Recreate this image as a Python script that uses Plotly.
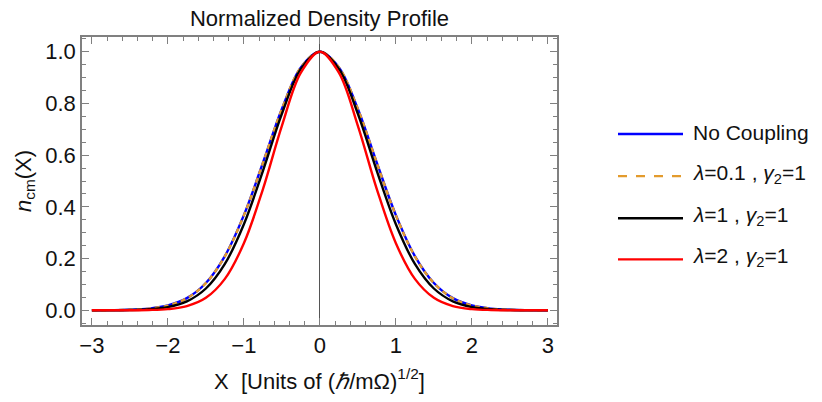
import plotly.graph_objects as go

# ---- data ----
x_vals = [-3.0, -2.75, -2.5, -2.25, -2.0, -1.75, -1.5, -1.25, -1.0, -0.75, -0.5, -0.25,
          0.0, 0.25, 0.5, 0.75, 1.0, 1.25, 1.5, 1.75, 2.0, 2.25, 2.5, 2.75, 3.0]

no_coupling = [0.0001, 0.0005, 0.0019, 0.0063, 0.0183, 0.0468, 0.1054, 0.2096, 0.3679, 0.5698, 0.7788, 0.9394,
               1.0, 0.9394, 0.7788, 0.5698, 0.3679, 0.2096, 0.1054, 0.0468, 0.0183, 0.0063, 0.0019, 0.0005, 0.0001]

lam01 = [0.0001, 0.0005, 0.0019, 0.0062, 0.0181, 0.0465, 0.1049, 0.2088, 0.3670, 0.5690, 0.7784, 0.9392,
         1.0, 0.9392, 0.7784, 0.5690, 0.3670, 0.2088, 0.1049, 0.0465, 0.0181, 0.0062, 0.0019, 0.0005, 0.0001]

lam1 = [0.0000, 0.0002, 0.0010, 0.0038, 0.0123, 0.0344, 0.0842, 0.1793, 0.3329, 0.5386, 0.7596, 0.9336,
        1.0, 0.9336, 0.7596, 0.5386, 0.3329, 0.1793, 0.0842, 0.0344, 0.0123, 0.0038, 0.0010, 0.0002, 0.0000]

lam2 = [0.0000, 0.0000, 0.0002, 0.0011, 0.0045, 0.0160, 0.0480, 0.1213, 0.2592, 0.4680, 0.7136, 0.9191,
        1.0, 0.9191, 0.7136, 0.4680, 0.2592, 0.1213, 0.0480, 0.0160, 0.0045, 0.0011, 0.0002, 0.0000, 0.0000]

series_names = ["No Coupling",
                "<i>λ</i>=0.1 , <i>γ</i><sub>2</sub>=1",
                "<i>λ</i>=1 , <i>γ</i><sub>2</sub>=1",
                "<i>λ</i>=2 , <i>γ</i><sub>2</sub>=1"]
x_tick_vals = [-3, -2, -1, 0, 1, 2, 3]
x_tick_text = ["\u22123", "\u22122", "\u22121", "0", "1", "2", "3"]
y_tick_vals = [0.0, 0.2, 0.4, 0.6, 0.8, 1.0]
y_tick_text = ["0.0", "0.2", "0.4", "0.6", "0.8", "1.0"]

# ---- styles ----
FONT = "Liberation Sans, Arial, sans-serif"
FS = 22
FS_LEG = 21
colors = ["#0000FF", "#E39B2D", "#000000", "#FF0000"]
dashes = ["solid", "5px,4px", "solid", "solid"]
series = [no_coupling, lam01, lam1, lam2]

OFF = 8                      # page body margin of the browser
W, H = 822 - OFF, 402 - OFF  # figure size
# plot area in page pixels
L, R, T, B = 82, 557, 37, 331

fig = go.Figure()
for ys, name, c, d in zip(series, series_names, colors, dashes):
    fig.add_trace(go.Scatter(x=x_vals, y=ys, mode="lines", name=name,
                             line=dict(color=c, dash=d, width=2.4, shape="spline", smoothing=1.0),
                             showlegend=False, hoverinfo="skip"))

frame_color = "#808080"
axis_common = dict(showline=True, linecolor=frame_color, linewidth=1.5, mirror="allticks",
                   ticks="inside", tickcolor=frame_color, tickwidth=1, showgrid=False,
                   tickfont=dict(family=FONT, size=FS, color="#111"))

fig.update_xaxes(range=[-3.13, 3.12], tickvals=x_tick_vals, ticktext=x_tick_text, ticklen=7,
                 minor=dict(dtick=0.2, ticks="inside", ticklen=4, tickcolor=frame_color, tickwidth=1, showgrid=False),
                 zeroline=True, zerolinecolor="#555555", zerolinewidth=1,
                 title=dict(text="X\u00a0 [Units of (<i>ℏ</i>/mΩ)<sup>1/2</sup>]",
                            font=dict(family=FONT, size=FS, color="#111"), standoff=16),
                 **axis_common)
fig.update_yaxes(range=[-0.057, 1.057], tickvals=y_tick_vals, ticktext=y_tick_text, ticklen=7,
                 minor=dict(dtick=0.05, ticks="inside", ticklen=4, tickcolor=frame_color, tickwidth=1, showgrid=False),
                 zeroline=False,
                 title=dict(text="<i>n</i><sub>cm</sub>(X)", font=dict(family=FONT, size=FS, color="#111"), standoff=8),
                 **axis_common)

# ---- manual legend (Mathematica-style) ----
def px_x(p):
    return (p - L) / (R - L)

def px_y(p):
    return (B - p) / (B - T)

legend_y = [136, 179, 222, 264]
for ly, name, c, d in zip(legend_y, series_names, colors, dashes):
    fig.add_shape(type="line", xref="paper", yref="paper",
                  x0=px_x(618), x1=px_x(683), y0=px_y(ly), y1=px_y(ly),
                  line=dict(color=c, width=2.4, dash="dash" if d != "solid" else "solid"))
    fig.add_annotation(xref="paper", yref="paper", x=px_x(692), y=px_y(ly - 2),
                       text=name, showarrow=False, xanchor="left", yanchor="middle",
                       borderpad=0, font=dict(family=FONT, size=FS_LEG, color="#111"))

fig.update_layout(
    width=W, height=H,
    margin=dict(l=L - OFF, r=822 - R, t=T - OFF, b=402 - B, pad=0),
    paper_bgcolor="white", plot_bgcolor="white",
    title=dict(text="Normalized Density Profile", x=((L + R) / 2 - OFF) / W, xanchor="center",
               y=1 - 3 / H, yanchor="top", pad=dict(t=0, b=0),
               font=dict(family=FONT, size=FS, color="#111")),
)

fig.write_html("out.html")
